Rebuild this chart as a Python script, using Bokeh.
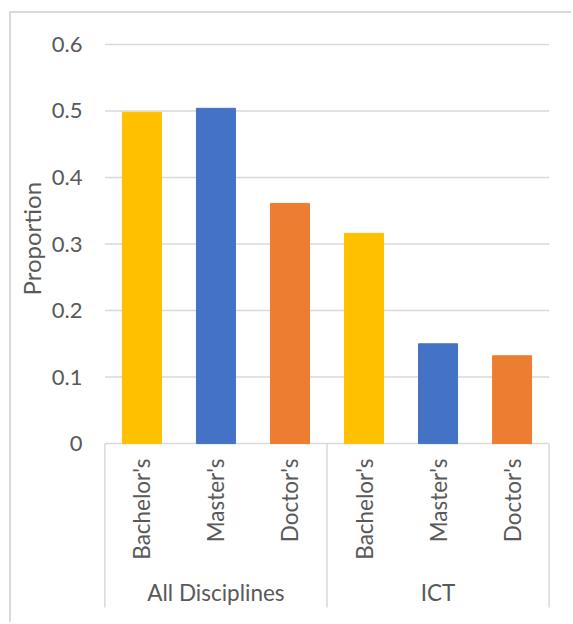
import math

from bokeh.plotting import figure
from bokeh.models import Range1d, FixedTicker, NumeralTickFormatter, Title
from bokeh.embed import file_html
from bokeh.resources import INLINE
from bokeh.core.properties import value

# --- data -------------------------------------------------------------
groups = ["All Disciplines", "ICT"]
degrees = ["Bachelor's", "Master's", "Doctor's"]
proportions = [0.498, 0.504, 0.361, 0.316, 0.150, 0.132]
degree_colors = ["#FFC000", "#4472C4", "#ED7D31"]
y_ticks = [0, 0.1, 0.2, 0.3, 0.4, 0.5, 0.6]
y_title = "Proportion"

# --- derived positions ------------------------------------------------
n_deg = len(degrees)
n_bars = len(groups) * n_deg
bar_x = [i + 0.5 for i in range(n_bars)]
bar_labels = [d for g in groups for d in degrees]
bar_colors = [degree_colors[i % n_deg] for i in range(n_bars)]
group_x = [g * n_deg + n_deg / 2 for g in range(len(groups))]
sep_x = [g * n_deg for g in range(len(groups) + 1)]

FONT = "Lato"
TEXT = "#595959"
LINE = "#D9D9D9"

Y_TOP = 0.621
Y_BOT = -0.272

# chart area: thin grey frame on the left/top, offset from the page corner
OX, OY, BW = 9, 11, 2
W = 573 - OX - BW
H = 624 - OY - BW

p = figure(
    width=W, height=H,
    x_range=Range1d(-0.1, n_bars + 0.1),
    y_range=Range1d(Y_BOT, Y_TOP),
    x_axis_location=None,
    output_backend="svg", toolbar_location=None,
    min_border_left=97 - OX - BW, min_border_right=17,
    min_border_top=30 - OY - BW, min_border_bottom=0,
    margin=(OY, 0, 0, OX),
    styles={"border-left": f"{BW}px solid {LINE}", "border-top": f"{BW}px solid {LINE}"},
)
p.outline_line_color = None
p.background_fill_color = "white"
p.border_fill_color = "white"
p.xgrid.visible = False
p.ygrid.visible = False

# horizontal gridlines (the 0 line doubles as the category axis line)
p.segment(x0=0, x1=n_bars, y0=y_ticks, y1=y_ticks, line_color=LINE, line_width=1.5)

# bars
p.vbar(x=bar_x, top=proportions, bottom=0, width=0.527, color=bar_colors)

# category separators of the two-level axis
p.segment(x0=sep_x, x1=sep_x, y0=0, y1=-0.2466, line_color=LINE, line_width=1.5)

# degree labels, vertical
p.text(x=bar_x, y=-0.0226, text=bar_labels, angle=math.pi / 2,
       text_align="right", text_baseline="middle",
       text_font=value(FONT), text_font_size="22.5px", text_color=TEXT)

# group labels
p.text(x=group_x, y=-0.2241, text=groups,
       text_align="center", text_baseline="middle",
       text_font=value(FONT), text_font_size="22.5px", text_color=TEXT)

# y axis
ax = p.yaxis[0]
ax.ticker = FixedTicker(ticks=y_ticks)
ax.bounds = (0, 0.6)
ax.formatter = NumeralTickFormatter(format="0.[0]")
ax.axis_line_color = None
ax.major_tick_line_color = None
ax.minor_tick_line_color = None
ax.major_label_standoff = 9
ax.major_label_text_font = FONT
ax.major_label_text_font_size = "22px"
ax.major_label_text_color = TEXT

# y-axis title, centred on the 0..0.6 span rather than the whole frame
p.add_layout(Title(text=y_title, align="left", offset=624 - OY - BW - (30 - OY - BW) - 265,
                   text_font=FONT, text_font_size="24px", text_font_style="normal",
                   text_color=TEXT, standoff=6), "left")

open("out.html", "w").write(file_html(p, INLINE))
